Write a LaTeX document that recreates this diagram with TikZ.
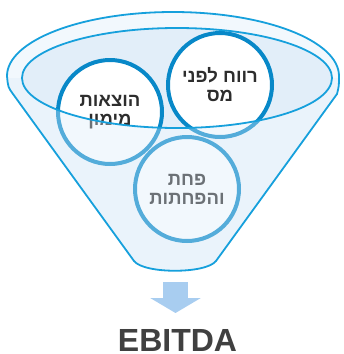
\documentclass[tikz,border=0pt]{standalone}
\usepackage{fontspec}
\setmainfont{Liberation Sans}
\newfontfamily\hebfont[Script=Hebrew,BoldFont={Liberation Sans Bold}]{Liberation Sans}
\TeXXeTstate=1
\usetikzlibrary{arrows.meta,positioning}
\definecolor{FNline}{RGB}{22,160,220}
\definecolor{FNring}{RGB}{8,136,200}
\definecolor{FNfill}{RGB}{242,248,253}
\definecolor{FNinner}{RGB}{226,238,249}
\definecolor{FNveil}{RGB}{220,236,250}
\definecolor{FNarrow}{RGB}{168,205,240}
\definecolor{FNtext}{RGB}{45,45,45}
\definecolor{FNtitle}{RGB}{64,64,64}
\tikzset{
  bubble/.style={circle,draw=FNring,line width=4pt,fill=white,
                 text=FNtext,align=center,inner sep=0pt,minimum size=104pt,
                 font=\hebfont\bfseries\fontsize{18.5}{19}\selectfont},
  rim/.style={draw=FNline,line width=1.8pt},
  bigarrow/.style={-{Triangle[length=15pt,width=50pt]},line width=25pt,draw=FNarrow},
  title/.style={font=\bfseries\fontsize{32}{36}\selectfont,text=FNtitle,inner sep=0pt}
}

\begin{document}
\begin{tikzpicture}[x=1pt,y=-1pt]
  \useasboundingbox (0,0) rectangle (344,354);
  % funnel body
  \def\funnelpath{(7,76) arc[start angle=180,end angle=360,x radius=166,y radius=64]
      .. controls (339,86) .. (337,94) -- (216,261)
      .. controls (206,274) and (144,274) .. (134,261) -- (13,94)
      .. controls (8,87) .. (7,76) -- cycle}
  \fill[FNfill] \funnelpath;
  \fill[FNinner] (177,78) ellipse[x radius=155,y radius=50];
  % the three items
  \node[bubble] (fin) at (110,112) {\beginR הוצאות\endR\\\beginR מימון\endR};
  \node[bubble] (tax) at (220,85) {\beginR רווח לפני\endR\\\beginR מס\endR};
  \node[bubble] (dep) at (187,189) {\beginR פחת\endR\\\beginR והפחתות\endR};
  % front of the funnel
  \begin{scope}
    \clip \funnelpath;
    \fill[FNveil,opacity=0.36] (22,78) arc[start angle=180,end angle=0,x radius=155,y radius=50]
      -- (344,78) -- (344,300) -- (0,300) -- (0,78) -- cycle;
  \end{scope}
  \draw[rim] (177,78) ellipse[x radius=155,y radius=50];
  \draw[rim] \funnelpath;
  % result
  \coordinate (spout) at (175.5,282);
  \coordinate (tip) at (175.5,313);
  \draw[bigarrow] (spout) -- (tip);
  \node[title,anchor=base] (ebitda) at (177.5,351) {EBITDA};
\end{tikzpicture}
\end{document}
